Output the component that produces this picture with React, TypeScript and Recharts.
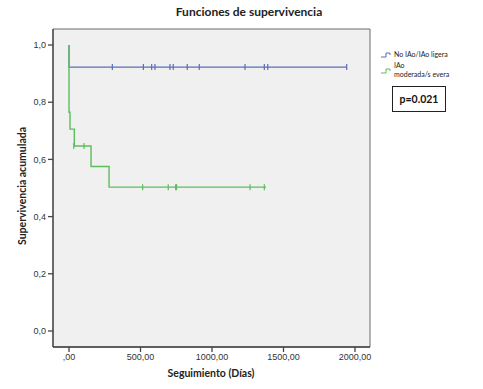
import React from "react";
import { ComposedChart, Line, Scatter, XAxis, YAxis, ReferenceArea } from "recharts";

// Kaplan-Meier steps (time in days, cumulative survival)
const blueSteps = [
  { t: 0, s: 1 },
  { t: 0, s: 0.923 },
  { t: 1942, s: 0.923 },
];
const greenSteps = [
  { t: 0, s: 1 },
  { t: 0, s: 0.765 },
  { t: 7, s: 0.706 },
  { t: 37, s: 0.647 },
  { t: 154, s: 0.575 },
  { t: 280, s: 0.503 },
  { t: 1378, s: 0.503 },
];
// censored observations
const blueCensored = [303, 520, 578, 601, 706, 729, 827, 911, 1231, 1366, 1390, 1942].map((t) => ({ t, s: 0.923 }));
const greenCensored = [
  { t: 33, s: 0.647 }, { t: 105, s: 0.647 },
  { t: 515, s: 0.503 }, { t: 694, s: 0.503 }, { t: 746, s: 0.503 }, { t: 752, s: 0.503 },
  { t: 1266, s: 0.503 }, { t: 1366, s: 0.503 },
];
const xTicks = [0, 500, 1000, 1500, 2000];
const yTicks = [0, 0.2, 0.4, 0.6, 0.8, 1.0];
const groups = [
  { name: ["No IAo/IAo ligera"], color: "#5b6db5" },
  { name: ["IAo", "moderada/s evera"], color: "#5cbd5c" },
];

const X_DOMAIN: [number, number] = [-112, 2105];
const Y_DOMAIN: [number, number] = [-0.056, 1.056];

const tickMark = (color: string) => (p: any) => (
  <line x1={p.cx} x2={p.cx} y1={p.cy - 3} y2={p.cy + 3} stroke={color} strokeWidth={1.2} />
);

const fmtX = (v: number) => (v === 0 ? ",00" : v.toFixed(2).replace(".", ","));
const fmtY = (v: number) => v.toFixed(1).replace(".", ",");

function LegendBox() {
  return (
    <div style={{ position: "absolute", left: 381, top: 50, fontFamily: "Lato, 'Liberation Sans', sans-serif", fontSize: 7, color: "#222" }}>
      {groups.map((g, i) => (
        <div key={i} style={{ display: "flex", alignItems: "flex-end", marginBottom: 2 }}>
          <svg width={12} height={8} style={{ marginRight: 1, marginBottom: i === 0 ? 0 : 4 }}>
            <path d="M0,6 H5 V2 H9 V4" fill="none" stroke={g.color} strokeWidth={1} />
          </svg>
          <div style={{ lineHeight: "9px" }}>
            {g.name.map((n) => <div key={n}>{n}</div>)}
          </div>
        </div>
      ))}
    </div>
  );
}

export default function App() {
  return (
    <div style={{ position: "absolute", left: 0, top: 0, width: 483, height: 389, background: "#fff" }}>
      <ComposedChart width={483} height={389} margin={{ top: 29, right: 113, bottom: 17, left: 13 }}>
        <ReferenceArea x1={X_DOMAIN[0]} x2={X_DOMAIN[1]} y1={Y_DOMAIN[0]} y2={Y_DOMAIN[1]}
          fill="#f0f0f0" fillOpacity={1} stroke="#6a6a6a" strokeWidth={1} />
        <XAxis type="number" dataKey="t" domain={X_DOMAIN} ticks={xTicks} tickFormatter={fmtX}
          allowDataOverflow height={25} tickSize={5} stroke="#444" strokeWidth={1.3}
          tick={{ fill: "#333", fontSize: 9, fontFamily: "'Liberation Sans', Arial, sans-serif" }} />
        <YAxis type="number" dataKey="s" domain={Y_DOMAIN} ticks={yTicks} tickFormatter={fmtY}
          allowDataOverflow width={40} tickSize={5} stroke="#444" strokeWidth={1.3}
          tick={{ fill: "#333", fontSize: 9, fontFamily: "'Liberation Sans', Arial, sans-serif" }} />
        <Line data={blueSteps} dataKey="s" type="stepAfter" stroke={groups[0].color} strokeWidth={1.2}
          dot={false} isAnimationActive={false} legendType="none" />
        <Scatter data={blueCensored} dataKey="s" shape={tickMark(groups[0].color)} isAnimationActive={false} legendType="none" />
        <Line data={greenSteps} dataKey="s" type="stepAfter" stroke={groups[1].color} strokeWidth={1.4}
          dot={false} isAnimationActive={false} legendType="none" />
        <Scatter data={greenCensored} dataKey="s" shape={tickMark(groups[1].color)} isAnimationActive={false} legendType="none" />
      </ComposedChart>
      <div style={{ position: "absolute", left: 249, top: 4, transform: "translateX(-50%)", whiteSpace: "nowrap",
        fontFamily: "Lato, sans-serif", fontWeight: 700, fontSize: 12, color: "#222" }}>
        Funciones de supervivencia
      </div>
      <LegendBox />
      <div style={{ position: "absolute", left: 392, top: 86, width: 52, height: 24, border: "1px solid #222",
        fontFamily: "Lato, sans-serif", fontWeight: 700, fontSize: 10.5, lineHeight: "24px", textAlign: "center", color: "#111" }}>
        p=0.021
      </div>
      <div style={{ position: "absolute", left: 211, top: 367, transform: "translateX(-50%)", whiteSpace: "nowrap",
        fontFamily: "Lato, sans-serif", fontWeight: 700, fontSize: 10.5, color: "#222" }}>
        Seguimiento (Días)
      </div>
      <div style={{ position: "absolute", left: 22, top: 186, transform: "translate(-50%, -50%) rotate(-90deg)", whiteSpace: "nowrap",
        fontFamily: "Lato, sans-serif", fontWeight: 700, fontSize: 10.5, color: "#222" }}>
        Supervivencia acumulada
      </div>
    </div>
  );
}
